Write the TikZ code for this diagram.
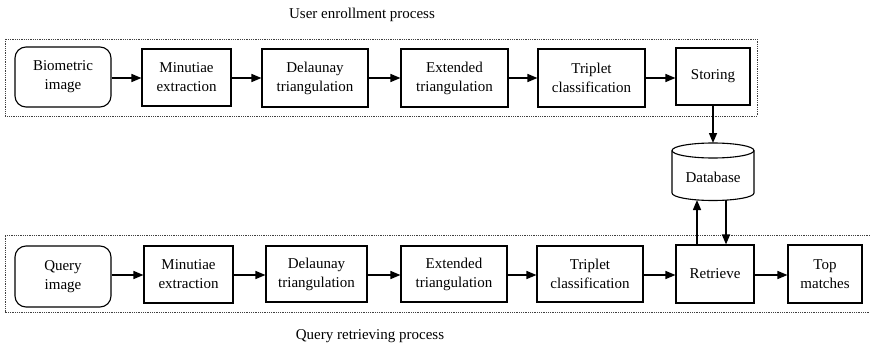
\documentclass[tikz,border=0pt]{standalone}
\usepackage{fontspec}
\setmainfont{Liberation Serif}
\usetikzlibrary{arrows.meta,calc}
\begin{document}
\begin{tikzpicture}[x=1pt,y=-1pt,
  txt/.style={font=\fontsize{15}{19}\selectfont, align=center, inner sep=0pt},
  proc/.style={txt, draw, line width=1.1pt},
  start/.style={proc, rounded corners=11pt},
  arr/.style={-{Triangle[length=10pt,width=8pt]}, line width=1.5pt},
  group/.style={draw=black!75, line width=0.8pt, densely dotted}]
\useasboundingbox (0,0) rectangle (870,345);
% groups
\draw[group] (5,39) rectangle (757,116);
\draw[group] (870,235) -- (5,235) -- (5,312) -- (870,312);
% titles
\node[txt] (ttop) at (362,15) {User enrollment process};
\node[txt] (tbot) at (370,336) {Query retrieving process};
% top row
\node[start, minimum width=96, minimum height=60] (bio) at (63,77) {Biometric\\image};
\node[proc, minimum width=89, minimum height=57] (m1) at (186.5,77.5) {Minutiae\\extraction};
\node[proc, minimum width=106, minimum height=58] (d1) at (315,78) {Delaunay\\triangulation};
\node[proc, minimum width=107, minimum height=58] (e1) at (454.5,78) {Extended\\triangulation};
\node[proc, minimum width=107, minimum height=58] (t1) at (591.5,78) {Triplet\\classification};
\node[proc, minimum width=74, minimum height=57] (s1) at (713,76.5) {Storing};
% bottom row
\node[start, minimum width=96, minimum height=61] (q) at (63,276.5) {Query\\image};
\node[proc, minimum width=89, minimum height=57] (m2) at (188.5,274.5) {Minutiae\\extraction};
\node[proc, minimum width=101, minimum height=56] (d2) at (316.5,274) {Delaunay\\triangulation};
\node[proc, minimum width=106, minimum height=56] (e2) at (454,274) {Extended\\triangulation};
\node[proc, minimum width=106, minimum height=56] (t2) at (590,274) {Triplet\\classification};
\node[proc, minimum width=78, minimum height=58] (r) at (715,274) {Retrieve};
\node[proc, minimum width=74, minimum height=58] (tm) at (825,274) {Top\\matches};
% database
\draw[line width=1.1pt] (713,150.5) ellipse [x radius=41, y radius=7.5];
\draw[line width=1.1pt] (672,150.5) -- (672,193) arc[start angle=180, end angle=0, x radius=41, y radius=7.5] -- (754,150.5);
\node[txt] (db) at (713,177) {Database};
\coordinate (dbtop) at (713,143);
\coordinate (dbbl) at (697,200);
\coordinate (dbbr) at (726,200);
% arrows top
\draw[arr] (bio.east |- 0,78) -- (m1.west |- 0,78);
\draw[arr] (m1.east |- 0,78) -- (d1.west |- 0,78);
\draw[arr] (d1.east |- 0,78) -- (e1.west |- 0,78);
\draw[arr] (e1.east |- 0,78) -- (t1.west |- 0,78);
\draw[arr] (t1.east |- 0,78) -- (s1.west |- 0,78);
% arrows bottom
\draw[arr] (q.east |- 0,275) -- (m2.west |- 0,275);
\draw[arr] (m2.east |- 0,275) -- (d2.west |- 0,275);
\draw[arr] (d2.east |- 0,275) -- (e2.west |- 0,275);
\draw[arr] (e2.east |- 0,275) -- (t2.west |- 0,275);
\draw[arr] (t2.east |- 0,275) -- (r.west |- 0,275);
\draw[arr] (r.east |- 0,275) -- (tm.west |- 0,275);
% database arrows
\draw[arr] (s1.south) -- (dbtop);
\draw[arr] (r.north -| dbbl) -- (dbbl);
\draw[arr] (dbbr) -- (r.north -| dbbr);
\end{tikzpicture}
\end{document}
